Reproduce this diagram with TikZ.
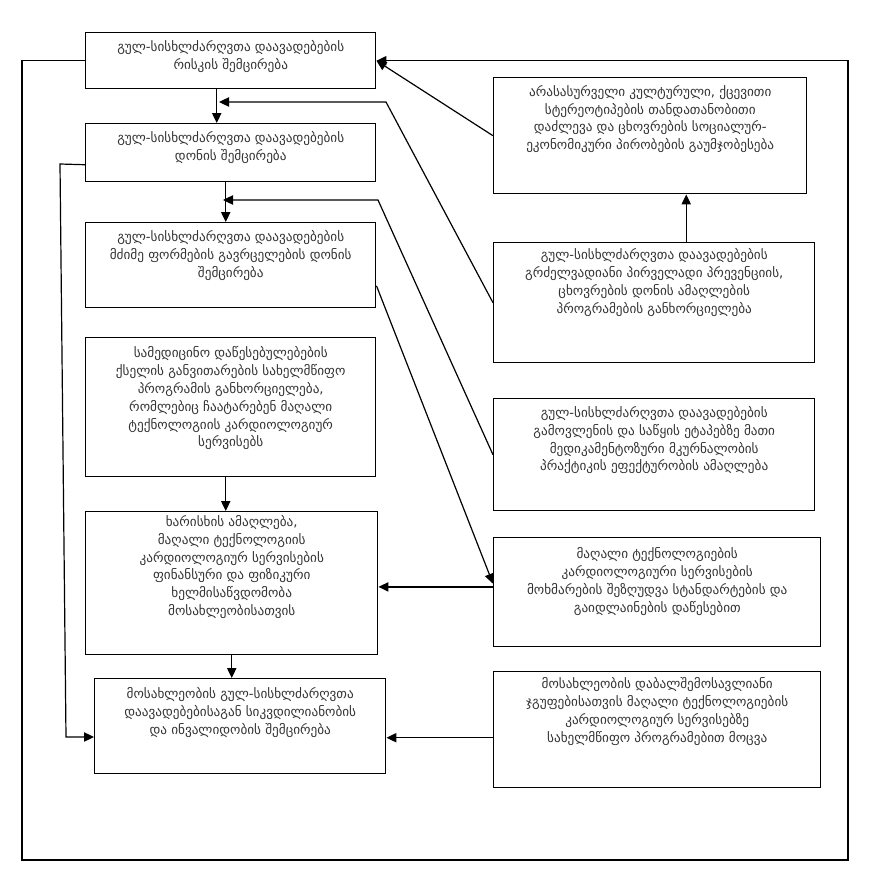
\documentclass[tikz,border=0pt]{standalone}
\usepackage{fontspec}
\setmainfont{DejaVu Sans}
\usetikzlibrary{arrows.meta,calc}
\begin{document}
\begin{tikzpicture}[x=0.75pt,y=-0.75pt,
  pxbox/.style 2 args={draw, line width=1.1pt, anchor=north west, inner sep=0pt,
     minimum width=#1*0.75pt, minimum height=#2*0.75pt},
  txt/.style={anchor=north, align=center, inner sep=0pt,
     font=\fontsize{9.9}{13.4}\selectfont, text=black!80},
  arr/.style={line width=0.9pt, -{Triangle[length=7.5pt,width=7pt]}},
  ln/.style={line width=0.9pt}]
\useasboundingbox (0,0) rectangle (876,882);
% boxes
\node[pxbox={290}{56}]  (b1) at (85,32)  {};
\node[pxbox={290}{58}]  (b2) at (85,123) {};
\node[pxbox={290}{85}]  (b3) at (85,222) {};
\node[pxbox={290}{139}] (b4) at (85,337) {};
\node[pxbox={292}{143}] (b5) at (85,511) {};
\node[pxbox={291}{95}]  (b6) at (94,678) {};
\node[pxbox={313}{116}] (r1) at (493,77)  {};
\node[pxbox={321}{120}] (r2) at (493,242) {};
\node[pxbox={321}{112}] (r3) at (493,398) {};
\node[pxbox={327}{109}] (r4) at (493,537) {};
\node[pxbox={327}{116}] (r5) at (493,671) {};
% texts
\node[txt] (t1) at ([yshift=-6pt]b1.north) {გულ-სისხლძარღვთა დაავადებების\\რისკის შემცირება};
\node[txt] (t2) at ([yshift=-6pt]b2.north) {გულ-სისხლძარღვთა დაავადებების\\დონის შემცირება};
\node[txt] (t3) at ([yshift=-6pt]b3.north) {გულ-სისხლძარღვთა დაავადებების\\მძიმე ფორმების გავრცელების დონის\\შემცირება};
\node[txt] (t4) at ([yshift=-7pt]b4.north) {სამედიცინო დაწესებულებების\\ქსელის განვითარების სახელმწიფო\\პროგრამის განხორციელება,\\რომლებიც ჩაატარებენ მაღალი\\ტექნოლოგიის კარდიოლოგიურ\\სერვისებს};
\node[txt] (t5) at ([yshift=-3pt]b5.north) {ხარისხის ამაღლება,\\მაღალი ტექნოლოგიის\\კარდიოლოგიურ სერვისების\\ფინანსური და ფიზიკური\\ხელმისაწვდომობა\\მოსახლეობისათვის};
\node[txt] (t6) at ([yshift=-7pt]b6.north) {მოსახლეობის გულ-სისხლძარღვთა\\დაავადებებისაგან სიკვდილიანობის\\და ინვალიდობის შემცირება};
\node[txt] (tr1) at ([yshift=-6pt]r1.north) {არასასურველი კულტურული, ქცევითი\\სტერეოტიპების თანდათანობითი\\დაძლევა და ცხოვრების სოციალურ-\\ეკონომიკური პირობების გაუმჯობესება};
\node[txt] (tr2) at ([yshift=-5pt]r2.north) {გულ-სისხლძარღვთა დაავადებების\\გრძელვადიანი პირველადი პრევენციის,\\ცხოვრების დონის ამაღლების\\პროგრამების განხორციელება};
\node[txt] (tr3) at ([yshift=-6pt]r3.north) {გულ-სისხლძარღვთა დაავადებების\\გამოვლენის და საწყის ეტაპებზე მათი\\მედიკამენტოზური მკურნალობის\\პრაქტიკის ეფექტურობის ამაღლება};
\node[txt] (tr4) at ([yshift=-8pt]r4.north) {მაღალი ტექნოლოგიების\\კარდიოლოგიური სერვისების\\მოხმარების შეზღუდვა სტანდარტების და\\გაიდლაინების დაწესებით};
\node[txt] (tr5) at ([yshift=-5pt]r5.north) {მოსახლეობის დაბალშემოსავლიანი\\ჯგუფებისათვის მაღალი ტექნოლოგიების\\კარდიოლოგიურ სერვისებზე\\სახელმწიფო პროგრამებით მოცვა};
% junction points
\coordinate (j1) at (219,102);
\coordinate (k1) at (386,102);
\coordinate (j2) at (223,200);
\coordinate (k2) at (378,200);
\coordinate (oL) at (22,0);
\coordinate (oR) at (848,0);
\coordinate (oB) at (0,860);
\coordinate (m1) at (60,164);
\coordinate (m2) at (66,737);
% connectors
\draw[arr] ([xshift=-10.5pt]b1.south) -- ([xshift=-10.5pt]b1.south |- b2.north);
\draw[arr] ([xshift=-3.75pt]b2.south) -- ([xshift=-3.75pt]b2.south |- b3.north);
\draw[arr] ([xshift=-3.75pt]b4.south) -- ([xshift=-3.75pt]b4.south |- b5.north);
\draw[arr] (b5.south) -- (b5.south |- b6.north);
\draw[arr] (r2.west) -- (k1) -- (j1);
\draw[arr] (r3.west) -- (k2) -- (j2);
\draw[arr] (r1.west) -- (b1.east);
\draw[arr] ([yshift=-15.4pt]b3.east) -- ([yshift=6.4pt]r4.west);
\draw[arr] ([xshift=24pt]r2.north) -- ([xshift=24pt]r2.north |- r1.south);
\draw[arr] ([yshift=4pt]r4.west) -- ([yshift=4pt]r4.west -| b5.east);
\draw[arr] ([yshift=-6pt]r5.west) -- ([yshift=-6pt]r5.west -| b6.east);
\draw[arr] ([yshift=-9pt]b2.west) -- (m1) -- (m2) -- (m2 -| b6.west);
\draw[arr] (b1.west) -- (b1.west -| oL) -- (oL |- oB) -- (oR |- oB) -- (b1.east -| oR) -- (b1.east);
\end{tikzpicture}
\end{document}
